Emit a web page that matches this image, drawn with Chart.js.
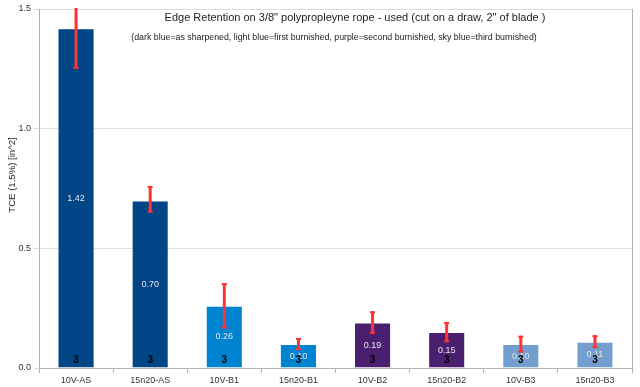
<!DOCTYPE html>
<html>
<head>
<meta charset="utf-8">
<script src="https://cdn.jsdelivr.net/npm/chart.js@4/dist/chart.umd.min.js"></script>
<style>
  html, body { margin: 0; padding: 0; background: #fff; }
  #wrap { width: 640px; height: 387px; }
</style>
</head>
<body>
<div id="wrap"><canvas id="grafico"></canvas></div>
<script>
// datos
const categorias = ["10V-AS", "15n20-AS", "10V-B1", "15n20-B1", "10V-B2", "15n20-B2", "10V-B3", "15n20-B3"];
const valores = [1.42, 0.70, 0.26, 0.10, 0.19, 0.15, 0.10, 0.11];
const errorMas = [0.17, 0.06, 0.095, 0.025, 0.047, 0.042, 0.035, 0.027];
const errorMenos = [0.17, 0.05, 0.095, 0.025, 0.047, 0.042, 0.035, 0.027];
const muestras = [3, 3, 3, 3, 3, 3, 3, 3];
const colores = ["#004586", "#004586", "#0084d1", "#0084d1", "#4b1f6f", "#4b1f6f", "#729fcf", "#729fcf"];
const ticksY = [0, 0.5, 1.0, 1.5];

const titulo = "Edge Retention on 3/8\" polypropleyne rope - used (cut on a draw, 2\" of blade )";
const subtitulo = "(dark blue=as sharpened, light blue=first burnished, purple=second burnished, sky blue=third burnished)";
const tituloY = "TCE (1.5%) [in^2]";

const FUENTE = "'Liberation Sans', Arial, sans-serif";

// barras de error, etiquetas y titulos dentro del area
const extras = {
    id: "extras",
    afterDatasetsDraw(chart) {
        const ctx = chart.ctx;
        const y = chart.scales.y;
        const area = chart.chartArea;
        const meta = chart.getDatasetMeta(0);

        ctx.save();
        // borde derecho
        ctx.strokeStyle = "#b3b3b3";
        ctx.lineWidth = 1;
        ctx.beginPath();
        ctx.moveTo(Math.round(area.right) + 0.5, area.top);
        ctx.lineTo(Math.round(area.right) + 0.5, area.bottom);
        ctx.stroke();

        // etiquetas de valor y n
        ctx.textAlign = "center";
        ctx.textBaseline = "middle";
        meta.data.forEach((bar, i) => {
            const cx = bar.x;
            const mid = (y.getPixelForValue(valores[i]) + y.getPixelForValue(0)) / 2;
            ctx.fillStyle = "#e6e6e6";
            ctx.font = "9px " + FUENTE;
            ctx.fillText(valores[i].toFixed(2), cx, mid);
            ctx.fillStyle = "#000";
            ctx.font = "bold 10px " + FUENTE;
            ctx.fillText(String(muestras[i]), cx, y.getPixelForValue(0) - 8);
        });

        // barras de error (recortadas al area)
        ctx.beginPath();
        ctx.rect(area.left, area.top - 1, area.right - area.left, area.bottom - area.top + 2);
        ctx.clip();
        ctx.strokeStyle = "#ff3333";
        meta.data.forEach((bar, i) => {
            const cx = bar.x;
            const top = y.getPixelForValue(valores[i] + errorMas[i]);
            const bot = y.getPixelForValue(valores[i] - errorMenos[i]);
            ctx.lineWidth = 3;
            ctx.beginPath();
            ctx.moveTo(cx, top);
            ctx.lineTo(cx, bot);
            ctx.stroke();
            ctx.lineWidth = 2;
            ctx.beginPath();
            ctx.moveTo(cx - 2.5, top + 1);
            ctx.lineTo(cx + 2.5, top + 1);
            ctx.moveTo(cx - 2.5, bot - 1);
            ctx.lineTo(cx + 2.5, bot - 1);
            ctx.stroke();
        });
        ctx.restore();

        // titulos
        ctx.save();
        ctx.fillStyle = "#222";
        ctx.textAlign = "center";
        ctx.textBaseline = "middle";
        ctx.font = "11px " + FUENTE;
        ctx.fillText(titulo, 355, 18);
        ctx.font = "8.8px " + FUENTE;
        ctx.fillText(subtitulo, 334, 38);
        ctx.translate(12, 175);
        ctx.rotate(-Math.PI / 2);
        ctx.font = "9.6px " + FUENTE;
        ctx.fillText(tituloY, 0, 0);
        ctx.restore();
    }
};

new Chart(document.getElementById("grafico").getContext("2d"), {
    type: "bar",
    data: {
        labels: categorias,
        datasets: [{
            data: valores,
            backgroundColor: colores,
            borderColor: "rgba(255,255,255,0.35)",
            borderWidth: 1,
            categoryPercentage: 1,
            barPercentage: 0.5
        }]
    },
    options: {
        responsive: true,
        maintainAspectRatio: false,
        animation: false,
        layout: { padding: { top: 9, right: 8, left: 0, bottom: 0 } },
        plugins: {
            legend: { display: false },
            tooltip: { enabled: false }
        },
        scales: {
            x: {
                grid: { drawOnChartArea: false, offset: true, tickLength: 5, color: "#b3b3b3" },
                border: { color: "#b3b3b3" },
                ticks: { color: "#333", font: { size: 9, family: FUENTE }, padding: 2, maxRotation: 0 },
                afterFit(scale) { scale.height = 19; }
            },
            y: {
                min: 0,
                max: 1.5,
                afterBuildTicks(scale) { scale.ticks = ticksY.map(v => ({ value: v })); },
                grid: { color: "#dddddd", tickLength: 5 },
                border: { color: "#b3b3b3" },
                ticks: {
                    color: "#333",
                    font: { size: 9, family: FUENTE },
                    padding: 3,
                    callback: v => v.toFixed(1)
                },
                afterFit(scale) { scale.width = 39; }
            }
        }
    },
    plugins: [extras]
});
</script>
</body>
</html>
